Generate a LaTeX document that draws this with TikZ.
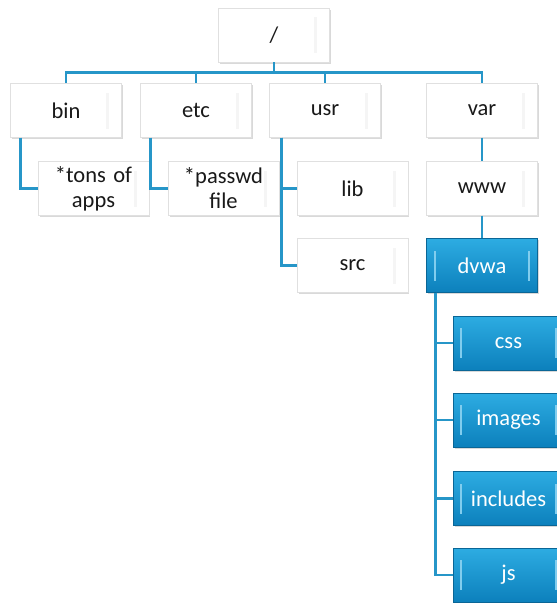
\documentclass[tikz,border=0pt]{standalone}
\usepackage{fontspec}
\setmainfont{Carlito}
\usepackage{tikz}
\usetikzlibrary{shadows}
\definecolor{linkblue}{RGB}{38,150,200}
\definecolor{dirtop}{RGB}{45,172,226}
\definecolor{dirbot}{RGB}{12,128,188}

\begin{document}
\begin{tikzpicture}[x=1pt,y=-1pt,
  box/.style={draw=black!12, fill=white, minimum width=107pt, minimum height=54pt,
    text width=104pt, align=center, font=\fontsize{22.5}{25}\selectfont, text=black!90,
    drop shadow={opacity=0.3, shadow xshift=1.5pt, shadow yshift=-1.5pt},
    path picture={\fill[black!4] ([xshift=-15pt,yshift=-9pt]path picture bounding box.north east)
      rectangle ([xshift=-12pt,yshift=9pt]path picture bounding box.south east);}},
  bluebox/.style={box, draw=dirbot!80!black, top color=dirtop, bottom color=dirbot, text=white,
    path picture={\fill[white!40!dirtop] ([xshift=7pt,yshift=-12pt]path picture bounding box.north west)
      rectangle ([xshift=9pt,yshift=12pt]path picture bounding box.south west);
      \fill[white!40!dirtop] ([xshift=-9pt,yshift=-12pt]path picture bounding box.north east)
      rectangle ([xshift=-7pt,yshift=12pt]path picture bounding box.south east);}},
  link/.style={draw=linkblue, line width=2.7pt}]
\useasboundingbox (0,0) rectangle (557,603);
% top level
\node[box] (root) at (274,35) {/};
\node[box] (bin) at (66,110.5) {bin};
\node[box] (etc) at (196,110.5) {etc};
\node[box] (usr) at (325,110.5) {usr};
\node[box] (var) at (482,110.5) {var};
% second level
\node[box] (apps) at (93.5,188.5) {*tons of\\apps};
\node[box] (passwd) at (223.5,188.5) {*passwd\\file};
\node[box] (lib) at (352.5,188.5) {lib};
\node[box] (src) at (352.5,265.5) {src};
\node[box] (www) at (482,188.5) {www};
\node[bluebox] (dvwa) at (482,265.5) {dvwa};
% dvwa folders
\foreach \n/\t/\y in {css/css/343, images/images/420, includes/includes/498.5, js/js/575}
  \node[bluebox] (\n) at (508.5,\y) {\t};
% connectors
\foreach \d in {bin,etc,usr,var}
  \draw[link] (root.south) -- ++(0,10) -| (\d.north);
\draw[link] ([xshift=10pt]bin.south west) |- (apps.west);
\draw[link] ([xshift=10pt]etc.south west) |- (passwd.west);
\draw[link] ([xshift=12pt]usr.south west) |- (lib.west);
\draw[link] ([xshift=12pt]usr.south west) |- (src.west);
\draw[link] (var.south) -- (www.north);
\draw[link] (www.south) -- (dvwa.north);
\foreach \n in {css,images,includes,js}
  \draw[link] ([xshift=9pt]dvwa.south west) |- (\n.west);
\end{tikzpicture}
\end{document}
